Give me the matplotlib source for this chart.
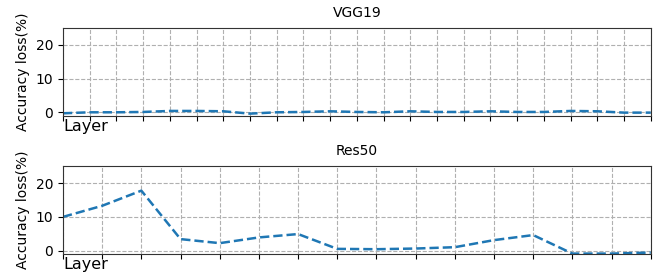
import numpy as np
import matplotlib
matplotlib.use("Agg")
import matplotlib.pyplot as plt

# Dados
vgg_layers = np.arange(23)
vgg_loss = [-0.3, 0.0, 0.0, 0.1, 0.4, 0.4, 0.3, -0.4, 0.0, 0.1, 0.3, 0.1,
            0.0, 0.3, 0.1, 0.1, 0.3, 0.1, 0.1, 0.4, 0.3, -0.1, -0.1]

res_layers = np.arange(16)
res_loss = [10.0, 13.3, 17.8, 3.4, 2.2, 3.9, 4.9, 0.5, 0.4, 0.6, 1.0, 3.1,
            4.6, -0.9, -0.9, -0.6]

titles = ['VGG19', 'Res50']

fig, axes = plt.subplots(2, 1, figsize=(6.56, 2.76), dpi=100)
fig.subplots_adjust(left=0.096, right=0.992, top=0.898, bottom=0.08, hspace=0.58)

for ax, x, y, title in zip(axes, [vgg_layers, res_layers], [vgg_loss, res_loss], titles):
    ax.plot(x, y, '--', color='#1f77b4', linewidth=1.8)
    ax.set_xlim(x[0], x[-1])
    ax.set_ylim(-1, 25)
    ax.set_xticks(x)
    ax.set_xticklabels([])
    ax.set_yticks([0, 10, 20])
    ax.tick_params(axis='y', labelsize=10)
    ax.grid(True, linestyle='--', color='#b0b0b0', linewidth=0.8)
    ax.set_title(title, fontsize=10, pad=8)
    ax.set_ylabel('Accuracy loss(%)', fontsize=10)
    ax.set_xlabel('Layer', fontsize=11.5, loc='left', labelpad=-4.5)
    for s in ax.spines.values():
        s.set_color('#333333')

fig.savefig('out.png', dpi=100)
